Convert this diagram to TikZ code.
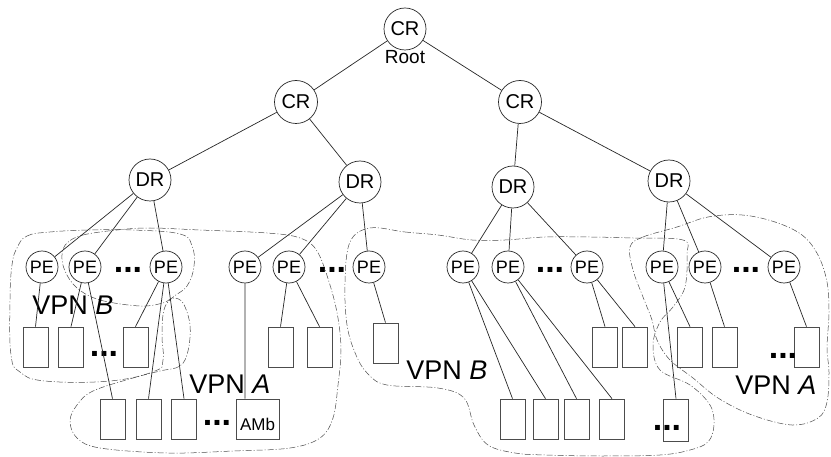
\documentclass[tikz,border=0pt]{standalone}
\usepackage{fontspec}
\setmainfont{Liberation Sans}

\tikzset{routeur/.style = {circle, draw, inner sep = 0pt, minimum size = #1,
                           font = \fontsize{20}{20}\selectfont},
         routeur/.default = 42pt,
         pe/.style = {routeur = 32pt, font = \fontsize{18}{18}\selectfont},
         site/.style = {draw = black!70, inner sep = 0pt, minimum width = 25pt, minimum height = 40pt},
         points/.style = {anchor = base, inner sep = 0pt, font = \fontsize{34}{34}\selectfont\bfseries},
         vpn/.style = {anchor = base west, inner sep = 0pt, font = \fontsize{27}{27}\selectfont},
         nuage/.style = {draw = black!70, line width = 0.5pt, dash pattern = on 6pt off 2pt on 1pt off 2pt}
        }

\begin{document}
\begin{tikzpicture}[x = 1pt, y = -1pt, line width = 0.7pt, draw = black!85]
  \useasboundingbox (0,0) rectangle (831,457);

  \draw[nuage] plot[smooth cycle, tension = 0.7] coordinates {
    (17,248) (27,236) (50,232) (90,230) (133,230) (180,234) (192,246) (194,266)
    (187,286) (172,298) (164,310) (162,335) (163,360) (155,371) (110,381) (45,381)
    (20,372) (11,355) (10,300) (12,265)};
  \draw[nuage] plot[smooth cycle, tension = 0.6] coordinates {
    (67,243) (83,235) (117,230) (150,228) (200,230) (267,233) (300,238) (317,251)
    (330,285) (338,318) (341,351) (338,385) (333,418) (320,438) (290,448) (233,451)
    (167,453) (100,448) (77,438) (70,421) (77,405) (93,391) (133,378) (160,371)
    (180,366) (188,351) (190,325) (183,303) (173,298) (163,303) (140,306) (100,300)
    (77,288) (65,271) (62,255)};
  \draw[nuage] plot[smooth cycle, tension = 0.6] coordinates {
    (370,228) (405,232) (438,235) (472,240) (505,240) (545,237) (590,237) (633,238)
    (683,240) (687,255) (685,287) (673,307) (660,322) (653,345) (660,370) (690,385)
    (710,405) (714,425) (708,442) (690,450) (660,455) (600,456) (545,455) (515,453)
    (488,445) (474,425) (464,398) (438,388) (387,385) (368,374) (356,355) (347,325)
    (345,282) (350,242)};
  \draw[nuage] plot[smooth cycle, tension = 0.6] coordinates {
    (630,247) (643,237) (677,227) (708,217) (742,215) (775,222) (802,235) (818,255)
    (827,282) (829,312) (827,348) (829,372) (827,402) (818,418) (792,425) (752,415)
    (718,398) (693,378) (670,360) (657,340) (652,320) (643,297) (633,270)};

  \node[routeur] (cr0) at (405,29) {CR};
  \node[anchor = base, inner sep = 0pt, font = \fontsize{19}{19}\selectfont] (racine) at (405,64) {Root};
  \node[routeur = 43pt] (cr1) at (296,102) {CR};
  \node[routeur = 43pt] (cr2) at (520,102) {CR};
  \node[routeur] (dr1) at (150,180) {DR};
  \node[routeur] (dr2) at (360,182) {DR};
  \node[routeur] (dr3) at (513,187) {DR};
  \node[routeur] (dr4) at (669,181) {DR};

  \node[pe] (pe1) at (42,267) {PE};
  \node[pe] (pe2) at (85,267) {PE};
  \node[pe] (pe3) at (166,267) {PE};
  \node[pe] (pe4) at (245,267) {PE};
  \node[pe] (pe5) at (289,267) {PE};
  \node[pe] (pe6) at (369,267) {PE};
  \node[pe] (pe7) at (463,267) {PE};
  \node[pe] (pe8) at (508,267) {PE};
  \node[pe] (pe9) at (587,267) {PE};
  \node[pe] (pe10) at (662,267) {PE};
  \node[pe] (pe11) at (705,267) {PE};
  \node[pe] (pe12) at (784,267) {PE};

  \node[site] (h1) at (35.5,347) {};
  \node[site] (h2) at (71,347) {};
  \node[site] (h3) at (135.5,347) {};
  \node[site] (h4) at (280.5,347) {};
  \node[site] (h5) at (319.5,347) {};
  \node[site] (h6) at (385.5,343) {};
  \node[site] (h7) at (605,347) {};
  \node[site] (h8) at (635,347) {};
  \node[site] (h9) at (690,347) {};
  \node[site] (h10) at (724.5,347) {};
  \node[site] (h11) at (806.5,347) {};

  \node[site] (b1) at (112.5,419) {};
  \node[site] (b2) at (148.5,419) {};
  \node[site] (b3) at (184,419) {};
  \node[site, minimum width = 43pt, text height = 22pt, text depth = 0pt,
        font = \fontsize{17}{17}\selectfont] (amb) at (257.5,419) {AMb};
  \node[site] (b4) at (512.5,419) {};
  \node[site] (b5) at (545.5,419) {};
  \node[site] (b6) at (576.5,419) {};
  \node[site] (b7) at (612,419) {};
  \node[site, minimum height = 42pt] (b8) at (676,420) {};

  \node[points] (p1) at (128,273) {...};
  \node[points] (p2) at (332,273) {...};
  \node[points] (p3) at (550,273) {...};
  \node[points] (p4) at (746,273) {...};
  \node[points] (p5) at (104,356) {...};
  \node[points] (p6) at (783,359) {...};
  \node[points] (p7) at (217,425) {...};
  \node[points] (p8) at (667,431) {...};

  \node[vpn] (vpnb1) at (32,315) {VPN \textit{B}};
  \node[vpn] (vpna1) at (189,393) {VPN \textit{A}};
  \node[vpn] (vpnb2) at (406,380) {VPN \textit{B}};
  \node[vpn] (vpna2) at (735,395) {VPN \textit{A}};

  \draw (cr0) -- (cr1) (cr0) -- (cr2)
        (cr1) -- (dr1) (cr1) -- (dr2)
        (cr2) -- (dr3) (cr2) -- (dr4);
  \draw (dr1) -- (pe1) (dr1) -- (pe2) (dr1) -- (pe3)
        (dr2) -- (pe4) (dr2) -- (pe5) (dr2) -- (pe6)
        (dr3) -- (pe7) (dr3) -- (pe8) (dr3) -- (pe9)
        (dr4) -- (pe10) (dr4) -- (pe11) (dr4) -- (pe12);
  \draw (pe1) -- (h1.north) (pe2) -- (h2.north) (pe2) -- (b1.north)
        (pe3) -- (h3.north) (pe3) -- (b2.north) (pe3) -- (b3.north)
        (pe4.south) -- (pe4.south |- amb.north)
        (pe5) -- (h4.north) (pe5) -- (h5.north) (pe6) -- (h6.north)
        (pe7) -- (b4.north) (pe7) -- (b5.north) (pe8) -- (b6.north) (pe8) -- (b7.north)
        (pe9) -- (h7.north) (pe9) -- (h8.north)
        (pe10) -- (b8.north) (pe10) -- (h9.north)
        (pe11) -- (h10.north) (pe12) -- (h11.north);
\end{tikzpicture}
\end{document}
